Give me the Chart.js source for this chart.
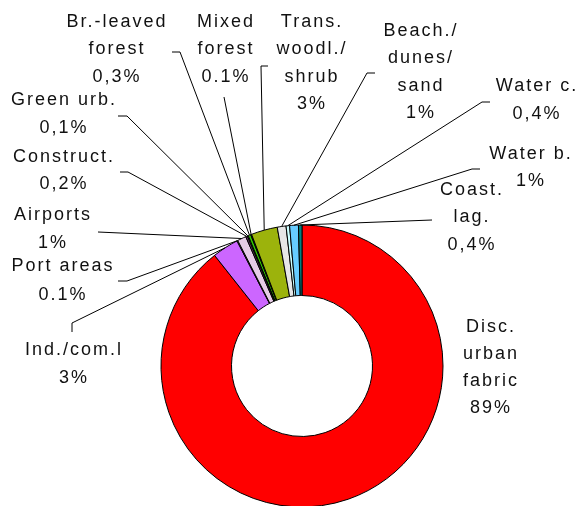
<!doctype html>
<html>
<head>
<meta charset="utf-8">
<title>Land cover doughnut</title>
<script src="https://cdn.jsdelivr.net/npm/chart.js@4"></script>
<style>
  html, body { margin: 0; padding: 0; background: #fff; }
  #wrap { width: 582px; height: 506px; }
</style>
</head>
<body>
<div id="wrap"><canvas id="pie" width="582" height="506"></canvas></div>
<script>
// data (clockwise from 12 o'clock)
const categories = [
  'Disc. urban fabric', 'Ind./com.l', 'Port areas', 'Airports', 'Construct.',
  'Green urb.', 'Br.-leaved forest', 'Mixed forest', 'Trans. woodl./ shrub',
  'Beach./ dunes/ sand', 'Water c.', 'Water b.', 'Coast. lag.'
];
const shares = [89, 3, 0.1, 1, 0.2, 0.1, 0.3, 0.1, 3, 1, 0.4, 1, 0.4];
const shareLabels = ['89%', '3%', '0.1%', '1%', '0,2%', '0,1%', '0,3%', '0.1%', '3%', '1%', '0,4%', '1%', '0,4%'];
// how each category name is broken over lines in the picture
const nameLines = [
  ['Disc.', 'urban', 'fabric'], ['Ind./com.l'], ['Port areas'], ['Airports'], ['Construct.'],
  ['Green urb.'], ['Br.-leaved', 'forest'], ['Mixed', 'forest'], ['Trans.', 'woodl./', 'shrub'],
  ['Beach./', 'dunes/', 'sand'], ['Water c.'], ['Water b.'], ['Coast.', 'lag.']
];
const colors = [
  '#ff0000', '#cc66ff', '#cc99cc', '#e6cce6', '#663366',
  '#66ff33', '#33cc00', '#006600', '#9cb30c',
  '#e6e6e6', '#ccffff', '#66ccff', '#008080'
];

// where each label sits, and the bend points of its leader line
const labelPlace = [
  { x: 490, y: 327, gap: 27, lead: null },
  { x: 73,  y: 350, gap: 28, lead: [[72, 323], [72, 332]] },
  { x: 62,  y: 266, gap: 29, lead: [[127, 281], [118, 281]] },
  { x: 52,  y: 215, gap: 28, lead: [[98, 232]] },
  { x: 63,  y: 157, gap: 27, lead: [[128, 172], [120, 172]] },
  { x: 63,  y: 100, gap: 28, lead: [[127, 116], [118, 116]] },
  { x: 116, y: 22,  gap: 27.5, lead: [[180, 52], [172, 52]] },
  { x: 225, y: 22,  gap: 27.5, lead: [[224, 97]] },
  { x: 311, y: 22,  gap: 27.5, lead: [[261, 66], [268, 66]] },
  { x: 420, y: 31,  gap: 27.5, lead: [[367, 73], [375, 73]] },
  { x: 536, y: 86,  gap: 28, lead: [[482, 102], [490, 102]] },
  { x: 530, y: 154, gap: 27, lead: [[472, 169], [480, 169]] },
  { x: 471, y: 190, gap: 27.5, lead: [[432, 220]] }
];

const FONT = '18px "Liberation Sans", Arial, sans-serif';
const SPACING = 2;

const outsideLabels = {
  id: 'outsideLabels',
  afterDraw(chart) {
    const ctx = chart.ctx;
    const arcs = chart.getDatasetMeta(0).data;
    ctx.save();
    // leader lines from the middle of each slice's outer edge
    ctx.strokeStyle = '#000';
    ctx.lineWidth = 1;
    arcs.forEach((arc, i) => {
      const p = labelPlace[i];
      if (!p.lead) return;
      const mid = (arc.startAngle + arc.endAngle) / 2;
      ctx.beginPath();
      ctx.moveTo(arc.x + Math.cos(mid) * arc.outerRadius, arc.y + Math.sin(mid) * arc.outerRadius);
      p.lead.forEach(pt => ctx.lineTo(pt[0], pt[1]));
      ctx.stroke();
    });
    // label text
    ctx.font = FONT;
    ctx.letterSpacing = SPACING + 'px';
    ctx.fillStyle = '#111';
    ctx.textAlign = 'center';
    ctx.textBaseline = 'middle';
    labelPlace.forEach((p, i) => {
      const lines = nameLines[i].concat([shareLabels[i]]);
      lines.forEach((t, k) => ctx.fillText(t, p.x + SPACING / 2, p.y + k * p.gap));
    });
    ctx.restore();
  }
};

new Chart(document.getElementById('pie').getContext('2d'), {
  type: 'doughnut',
  data: {
    labels: categories,
    datasets: [{
      data: shares,
      backgroundColor: colors,
      borderColor: '#000',
      borderWidth: 1,
      hoverOffset: 0
    }]
  },
  options: {
    responsive: false,
    animation: false,
    radius: 141,
    cutout: '50%',
    layout: { padding: { left: 22, right: 0, top: 226, bottom: 0 } },
    plugins: { legend: { display: false }, tooltip: { enabled: false } }
  },
  plugins: [outsideLabels]
});
</script>
</body>
</html>
